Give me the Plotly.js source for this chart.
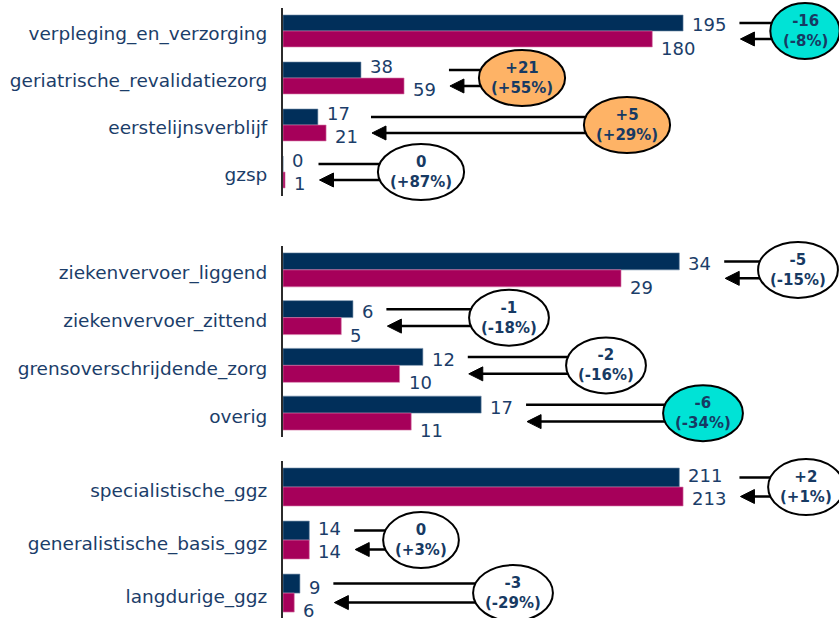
<!DOCTYPE html>
<html>
<head>
<meta charset="utf-8">
<script src="https://cdn.plot.ly/plotly-3.0.1.min.js"></script>
<style>
  html, body { margin: 0; padding: 0; background: #fff; }
  #chart { width: 839px; height: 618px; }
</style>
</head>
<body>
<div id="chart"></div>
<script>
// ---- data: langdurige zorg / ziekenvervoer / ggz (dark = earlier period, magenta = later period)
const cats1 = ['verpleging_en_verzorging', 'geriatrische_revalidatiezorg', 'eerstelijnsverblijf', 'gzsp'];
const prev1 = [195, 38, 17, 0];
const curr1 = [180, 59, 21, 1];
const change1 = ['-16', '+21', '+5', '0'];
const pct1 = ['(-8%)', '(+55%)', '(+29%)', '(+87%)'];

const cats2 = ['ziekenvervoer_liggend', 'ziekenvervoer_zittend', 'grensoverschrijdende_zorg', 'overig'];
const prev2 = [34, 6, 12, 17];
const curr2 = [29, 5, 10, 11];
const change2 = ['-5', '-1', '-2', '-6'];
const pct2 = ['(-15%)', '(-18%)', '(-16%)', '(-34%)'];

const cats3 = ['specialistische_ggz', 'generalistische_basis_ggz', 'langdurige_ggz'];
const prev3 = [211, 14, 9];
const curr3 = [213, 14, 6];
const change3 = ['+2', '0', '-3'];
const pct3 = ['(+1%)', '(+3%)', '(-29%)'];

// ---- styling
const NAVY = '#012F5A';
const MAGENTA = '#A6005A';
const TEXT = '#1B3D69';
const CYAN = '#00E3D6';
const ORANGE = '#FEB366';
const WHITE = '#FFFFFF';
const FONT = '"DejaVu Sans", Verdana, sans-serif';

const W = 839, H = 618, L = 283, PW = W - L;
const px2x = p => (p - L) / PW;
const px2y = p => (H - p) / H;

// panel geometry (pixels) and bubble placement
const panels = [
  { cats: cats1, prev: prev1, curr: curr1, change: change1, pct: pct1,
    xmax: 271, top: 7.5, bottom: 195.5, rng: [3.5, -0.5], bar: 0.34,
    bubbleX: [805, 522, 627, 421], fills: [CYAN, ORANGE, ORANGE, WHITE], low: [1, 0, 0, 0] },
  { cats: cats2, prev: prev2, curr: curr2, change: change2, pct: pct2,
    xmax: 47.7, top: 246, bottom: 437, rng: [3.5, -0.5], bar: 0.356,
    bubbleX: [798, 509, 606, 703], fills: [WHITE, WHITE, WHITE, CYAN], low: [1, 1, 1, 1] },
  { cats: cats3, prev: prev3, curr: curr3, change: change3, pct: pct3,
    xmax: 296, top: 460.5, bottom: 618, rng: [2.47, -0.5], bar: 0.358,
    bubbleX: [806, 421, 513], fills: [WHITE, WHITE, WHITE], low: [0, 0, 1] }
];

const canvas = document.createElement('canvas');
const ctx = canvas.getContext('2d');
function textWidth(s, font) { ctx.font = font; return ctx.measureText(s).width; }

const traces = [];
const layout = {
  width: W, height: H,
  margin: { l: L, r: 0, t: 0, b: 0, pad: 0 },
  paper_bgcolor: '#fff', plot_bgcolor: 'rgba(0,0,0,0)',
  showlegend: false,
  barmode: 'overlay',
  font: { family: FONT, color: TEXT },
  annotations: [],
  shapes: []
};

const lineShapes = [];
const bubbleShapes = [];

panels.forEach((p, k) => {
  const n = k + 1;
  const xa = 'x' + (n === 1 ? '' : n);
  const ya = 'y' + (n === 1 ? '' : n);
  const axX = 'xaxis' + (n === 1 ? '' : n);
  const axY = 'yaxis' + (n === 1 ? '' : n);

  layout[axX] = {
    domain: [0, 1], range: [0, p.xmax], anchor: ya,
    visible: false, showgrid: false, zeroline: false, fixedrange: true
  };
  layout[axY] = {
    domain: [px2y(p.bottom), px2y(p.top)], range: p.rng, anchor: xa,
    type: 'category', categoryorder: 'array', categoryarray: p.cats,
    showgrid: false, zeroline: false, fixedrange: true,
    showline: true, linecolor: '#2b2b2b', linewidth: 2,
    ticks: 'outside', ticklen: 10, tickcolor: 'rgba(0,0,0,0)',
    ticklabelshift: -3,
    tickfont: { family: FONT, size: 18.5, color: TEXT }
  };

  traces.push({
    type: 'bar', orientation: 'h', x: p.prev, y: p.cats, xaxis: xa, yaxis: ya,
    offset: -p.bar, width: p.bar,
    marker: { color: NAVY, line: { color: '#6f89a6', width: 0.6 } },
    hoverinfo: 'x+y'
  });
  traces.push({
    type: 'bar', orientation: 'h', x: p.curr, y: p.cats, xaxis: xa, yaxis: ya,
    offset: 0, width: p.bar,
    marker: { color: MAGENTA, line: { color: '#d77aa9', width: 0.6 } },
    hoverinfo: 'x+y'
  });

  const unitPx = (p.bottom - p.top) / (p.rng[0] - p.rng[1]);
  const barPx = p.bar * unitPx;
  const valFont = '18px ' + FONT;
  const bubFont = 'bold 15px ' + FONT;

  p.cats.forEach((c, i) => {
    const cy = p.top + (i - p.rng[1]) * unitPx;
    const dy1 = p.low[i] ? 6 : 12;
    const dy2 = p.low[i] ? -17.5 : -11;

    // value labels next to the bar ends
    layout.annotations.push({
      xref: xa, yref: ya, x: p.prev[i], y: c, text: String(p.prev[i]),
      xanchor: 'left', yanchor: 'middle', xshift: 7, yshift: dy1,
      showarrow: false, font: { family: FONT, size: 18, color: TEXT }
    });
    layout.annotations.push({
      xref: xa, yref: ya, x: p.curr[i], y: c, text: String(p.curr[i]),
      xanchor: 'left', yanchor: 'middle', xshift: 7, yshift: dy2,
      showarrow: false, font: { family: FONT, size: 18, color: TEXT }
    });

    // connector lines from the labels to the change bubble
    const end1 = L + p.prev[i] / p.xmax * PW + 10 + textWidth(String(p.prev[i]), valFont);
    const end2 = L + p.curr[i] / p.xmax * PW + 10 + textWidth(String(p.curr[i]), valFont);
    const startX = Math.max(end1, end2) + 12;
    const bx = p.bubbleX[i];
    const yTop = cy - barPx / 2;
    const yBot = cy + barPx / 2;

    lineShapes.push({
      type: 'line', xref: 'paper', yref: 'paper',
      x0: px2x(startX), x1: px2x(bx), y0: px2y(yTop), y1: px2y(yTop),
      line: { color: '#000', width: 2.5 }
    });
    lineShapes.push({
      type: 'line', xref: 'paper', yref: 'paper',
      x0: px2x(startX + 10), x1: px2x(bx), y0: px2y(yBot), y1: px2y(yBot),
      line: { color: '#000', width: 2.5 }
    });
    const tx = startX + 1, hl = 14, hh = 7;
    lineShapes.push({
      type: 'path', xref: 'paper', yref: 'paper',
      path: `M ${px2x(tx)} ${px2y(yBot)} L ${px2x(tx + hl)} ${px2y(yBot - hh)} L ${px2x(tx + hl)} ${px2y(yBot + hh)} Z`,
      fillcolor: '#000', line: { color: '#000', width: 1 }
    });

    // change bubble
    const tw = Math.max(textWidth(p.change[i], bubFont), textWidth(p.pct[i], bubFont));
    const rx = tw / 2 + 12, ry = 28;
    bubbleShapes.push({
      type: 'circle', xref: 'paper', yref: 'paper',
      x0: px2x(bx - rx), x1: px2x(bx + rx), y0: px2y(cy + ry), y1: px2y(cy - ry),
      fillcolor: p.fills[i], line: { color: '#000', width: 2 }
    });
    layout.annotations.push({
      xref: 'paper', yref: 'paper', x: px2x(bx), y: px2y(cy),
      xanchor: 'center', yanchor: 'middle', showarrow: false,
      text: '<b>' + p.change[i] + '</b><br><b>' + p.pct[i] + '</b>',
      font: { family: FONT, size: 15, color: '#173A63' }
    });
  });
});

layout.shapes = lineShapes.concat(bubbleShapes);

Plotly.newPlot('chart', traces, layout, { displayModeBar: false, staticPlot: true });
</script>
</body>
</html>
